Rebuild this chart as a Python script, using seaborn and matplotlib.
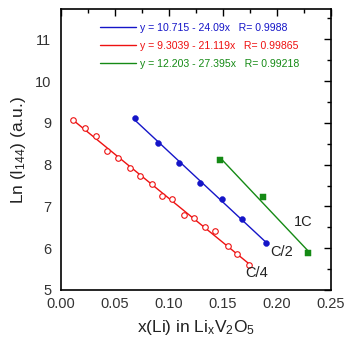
import numpy as np
import pandas as pd
import matplotlib
matplotlib.use("Agg")
import matplotlib.pyplot as plt
import seaborn as sns
from matplotlib.ticker import MultipleLocator
from matplotlib.lines import Line2D

sns.set_theme(style="white")
plt.rcParams['font.family'] = ['Liberation Sans', 'DejaVu Sans']
plt.rcParams['mathtext.fontset'] = 'custom'
plt.rcParams['mathtext.rm'] = 'Liberation Sans'
plt.rcParams['mathtext.it'] = 'Liberation Sans'

# C/4 data (open red circles)
x_c4 = [0.0114, 0.0219, 0.0327, 0.0426, 0.0528, 0.0639, 0.0731, 0.0840, 0.0938,
        0.1031, 0.1142, 0.1229, 0.1333, 0.1429, 0.1544, 0.1632, 0.1741]
y_c4 = [9.07, 8.89, 8.68, 8.33, 8.15, 7.92, 7.72, 7.53, 7.25,
        7.18, 6.79, 6.73, 6.51, 6.41, 6.05, 5.85, 5.60]
# C/2 data (filled blue circles)
x_c2 = [0.0685, 0.0898, 0.1093, 0.1290, 0.1491, 0.1673, 0.1901]
y_c2 = [9.11, 8.52, 8.03, 7.55, 7.18, 6.69, 6.13]
# 1C data (green squares)
x_1c = [0.1472, 0.1873, 0.2287]
y_1c = [8.11, 7.23, 5.88]

# linear fit parameters (from the legend)
series = ["C/2", "C/4", "1C"]
intercepts = [10.715, 9.3039, 12.203]
slopes = [-24.09, -21.119, -27.395]
r_values = ["0.9988", "0.99865", "0.99218"]
colors = ["#1515C8", "#EE1111", "#158A15"]
rate_labels = ["C/2", "C/4", "1C"]
label_x = [0.204, 0.181, 0.224]
label_y = [5.92, 5.41, 6.63]

xs = {"C/2": x_c2, "C/4": x_c4, "1C": x_1c}
ys = {"C/2": y_c2, "C/4": y_c4, "1C": y_1c}

fig = plt.figure(figsize=(3.52, 3.47), dpi=100)
ax = fig.add_axes([0.1733, 0.1643, 0.7670, 0.8089])

handles = []
for s, b0, b1, r, c in zip(series, intercepts, slopes, r_values, colors):
    xd = np.array(xs[s])
    df_fit = pd.DataFrame({"x": [xd.min(), xd.max()],
                           "y": [b0 + b1 * xd.min(), b0 + b1 * xd.max()]})
    sns.lineplot(data=df_fit, x="x", y="y", ax=ax, color=c, lw=1.0)
    df = pd.DataFrame({"x": xs[s], "y": ys[s]})
    if s == "C/4":
        ax.scatter(df["x"], df["y"], s=16, facecolors="white", edgecolors=c,
                   linewidths=0.8, zorder=3)
    elif s == "C/2":
        sns.scatterplot(data=df, x="x", y="y", ax=ax, color=c, s=18,
                        marker="o", edgecolor=c, zorder=3)
    else:
        sns.scatterplot(data=df, x="x", y="y", ax=ax, color=c, s=18,
                        marker="s", edgecolor=c, zorder=3)
    sgn = "-" if b1 < 0 else "+"
    handles.append(Line2D([], [], color=c, lw=1.0,
                          label=f"y = {b0:g} {sgn} {abs(b1):g}x   R= {r}"))

for lab, lx, ly in zip(rate_labels, label_x, label_y):
    ax.text(lx, ly, lab, fontsize=10.5, color="#222222", ha="center", va="center")

leg = ax.legend(handles=handles, loc="upper left", bbox_to_anchor=(0.145, 0.952),
                frameon=False, fontsize=7.6, handlelength=3.4, handletextpad=0.35,
                labelspacing=0.75, borderpad=0, borderaxespad=0,
                labelcolor="linecolor")

ax.set_xlim(0, 0.25)
ax.set_ylim(5, 11.72)
ax.xaxis.set_major_locator(MultipleLocator(0.05))
ax.xaxis.set_minor_locator(MultipleLocator(0.025))
ax.yaxis.set_major_locator(MultipleLocator(1))
ax.yaxis.set_minor_locator(MultipleLocator(0.5))
ax.xaxis.set_major_formatter(matplotlib.ticker.FormatStrFormatter('%.2f'))
ax.tick_params(which="both", direction="in", top=True, right=True,
               colors="black", labelcolor="#333333", labelsize=10.5)
ax.tick_params(which="major", length=5, width=1, pad=5)
ax.tick_params(which="minor", length=3, width=1)
ax.tick_params(axis="y", which="major", pad=7)
for sp in ax.spines.values():
    sp.set_color("black")
    sp.set_linewidth(1.2)

ax.set_xlabel(r"x(Li) in Li$_\mathregular{x}$V$_\mathregular{2}$O$_\mathregular{5}$",
              fontsize=12.5, color="#222222", labelpad=5)
ax.set_ylabel(r"Ln (I$_\mathregular{144}$) (a.u.)", fontsize=12.5, color="#222222",
              labelpad=5)

fig.savefig("out.png", dpi=100)
